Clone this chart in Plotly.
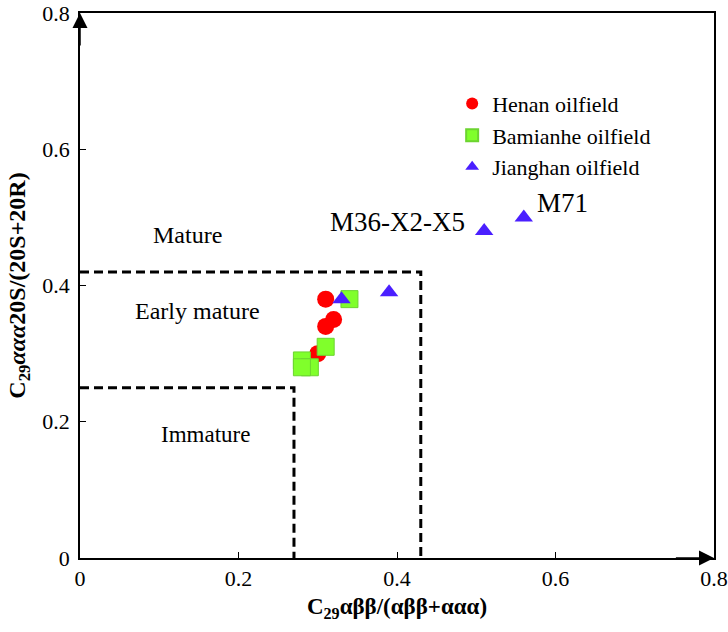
import plotly.graph_objects as go

# Data
henan_x = [0.31, 0.32, 0.31, 0.30]
henan_y = [0.38, 0.35, 0.34, 0.30]
bamianhe_x = [0.34, 0.31, 0.28, 0.29, 0.28]
bamianhe_y = [0.38, 0.31, 0.29, 0.28, 0.28]
jianghan_x = [0.33, 0.39, 0.51, 0.56]
jianghan_y = [0.38, 0.39, 0.48, 0.50]

mature_box_x = [0, 0.43, 0.43]
mature_box_y = [0.42, 0.42, 0]
early_box_x = [0, 0.27, 0.27]
early_box_y = [0.25, 0.25, 0]

tick_vals = [0, 0.2, 0.4, 0.6, 0.8]
tick_text = ["0", "0.2", "0.4", "0.6", "0.8"]

FONT = "Liberation Serif"

fig = go.Figure()

fig.add_trace(go.Scatter(x=mature_box_x, y=mature_box_y, mode="lines",
                         line=dict(color="black", width=3, dash="9px,5px"),
                         showlegend=False, hoverinfo="skip"))
fig.add_trace(go.Scatter(x=early_box_x, y=early_box_y, mode="lines",
                         line=dict(color="black", width=3, dash="9px,5px"),
                         showlegend=False, hoverinfo="skip"))

fig.add_trace(go.Scatter(x=henan_x, y=henan_y, mode="markers", name="Henan oilfield",
                         marker=dict(symbol="circle", size=17, color="#ff0000")))
fig.add_trace(go.Scatter(x=bamianhe_x, y=bamianhe_y, mode="markers", name="Bamianhe oilfield",
                         marker=dict(symbol="square", size=17, color="#80ff2b",
                                     line=dict(color="#6cd430", width=1))))
fig.add_trace(go.Scatter(x=jianghan_x, y=jianghan_y, mode="markers", name="Jianghan oilfield",
                         marker=dict(symbol="triangle-up", size=16, color="#4a1fff")))

annos = [
    dict(x=0.136, y=0.474, text="Mature", size=24),
    dict(x=0.148, y=0.363, text="Early mature", size=24),
    dict(x=0.158, y=0.182, text="Immature", size=23),
    dict(x=0.40, y=0.493, text="M36-X2-X5", size=27),
    dict(x=0.609, y=0.521, text="M71", size=27),
]
for a in annos:
    fig.add_annotation(x=a["x"], y=a["y"], text=a["text"], showarrow=False,
                       font=dict(family=FONT, size=a["size"], color="black"))

# axis arrows
fig.add_annotation(x=0, y=0.8, ax=0, ay=0.75, xref="x", yref="y", axref="x", ayref="y",
                   text="", showarrow=True, arrowhead=2, arrowsize=2, arrowwidth=1.5,
                   arrowcolor="black")
fig.add_annotation(x=0.8, y=0, ax=0.75, ay=0, xref="x", yref="y", axref="x", ayref="y",
                   text="", showarrow=True, arrowhead=2, arrowsize=2, arrowwidth=1.5,
                   arrowcolor="black")

fig.update_layout(
    width=728, height=632,
    margin=dict(l=80, r=14, t=13, b=74, autoexpand=False),
    plot_bgcolor="white", paper_bgcolor="white",
    font=dict(family=FONT, size=22, color="black"),
    legend=dict(x=0.587, y=0.872, xanchor="left", yanchor="top",
                bgcolor="rgba(0,0,0,0)", font=dict(family=FONT, size=22),
                itemsizing="constant", tracegroupgap=0),
    xaxis=dict(range=[0, 0.8], tickvals=tick_vals, ticktext=tick_text,
               showgrid=False, zeroline=False, showline=True, linecolor="black",
               linewidth=1.5, mirror=True, ticks="inside", ticklen=6, tickcolor="black",
               tickfont=dict(family=FONT, size=22), ticklabeloverflow="allow",
               title=dict(text="<b>C<sub>29</sub>αββ/(αββ+ααα)</b>",
                          font=dict(family=FONT, size=23), standoff=8)),
    yaxis=dict(range=[0, 0.8], tickvals=tick_vals, ticktext=tick_text,
               showgrid=False, zeroline=False, showline=True, linecolor="black",
               linewidth=1.5, mirror=True, ticks="inside", ticklen=6, tickcolor="black",
               tickfont=dict(family=FONT, size=22), ticklabeloverflow="allow",
               ticklabelstandoff=4,
               title=dict(text="<b>C<sub>29</sub><i>ααα</i>20S/(20S+20R)</b>",
                          font=dict(family=FONT, size=24), standoff=10)),
)

fig.write_html("out.html")
